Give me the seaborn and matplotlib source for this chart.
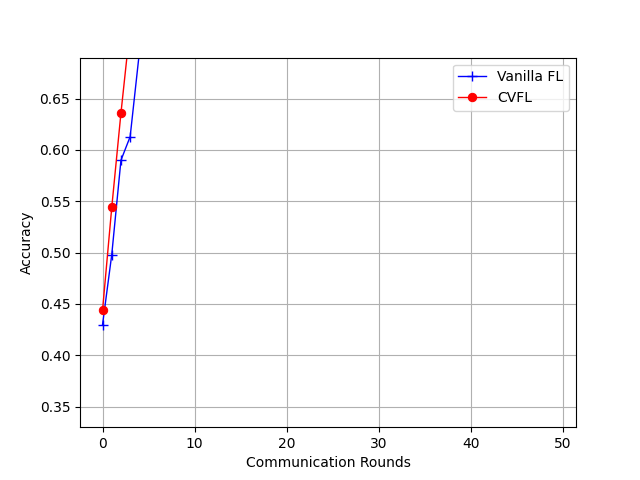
import matplotlib
matplotlib.use("Agg")
import matplotlib.pyplot as plt
import seaborn as sns
import pandas as pd

# values (lines leave the plot above y=0.69)
rounds_fl = [0, 1, 2, 3, 4, 5]
acc_fl = [0.430, 0.498, 0.590, 0.613, 0.695, 0.740]
rounds_cvfl = [0, 1, 2, 3, 4]
acc_cvfl = [0.444, 0.544, 0.636, 0.720, 0.760]

fig, ax = plt.subplots(figsize=(6.4, 4.8), dpi=100)
sns.lineplot(x=rounds_fl, y=acc_fl, ax=ax, color="blue", marker="+", markersize=7,
             linewidth=1, label="Vanilla FL", markeredgecolor="blue", markeredgewidth=1)
sns.lineplot(x=rounds_cvfl, y=acc_cvfl, ax=ax, color="red", marker="o", markersize=6,
             linewidth=1, label="CVFL", markeredgecolor="red")

ax.set_xlim(-2.45, 51.45)
ax.set_ylim(0.33, 0.69)
ax.set_xticks([0, 10, 20, 30, 40, 50])
ax.grid(True)
ax.set_xlabel("Communication Rounds")
ax.set_ylabel("Accuracy")
ax.legend(loc="upper right")
fig.savefig("out.png", dpi=100)
